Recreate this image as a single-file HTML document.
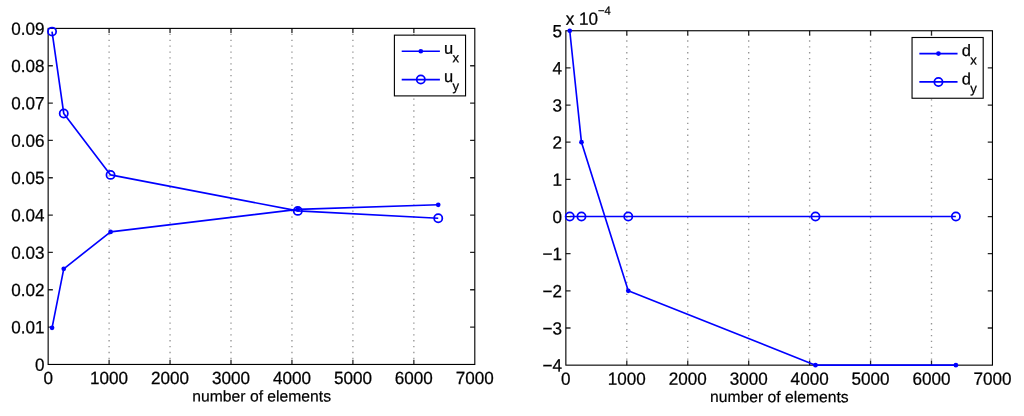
<!DOCTYPE html>
<html><head><meta charset="utf-8"><title>plots</title>
<style>
html,body{margin:0;padding:0;background:#fff;}
body{width:1024px;height:416px;overflow:hidden;}
svg{display:block;font-family:"Liberation Sans",sans-serif;}
.ax{stroke:#000;stroke-width:1.12;fill:none}
.tk{stroke:#000;stroke-width:1.3;fill:none;stroke-opacity:.85}
.gr{stroke:#000;stroke-width:1.35;fill:none;stroke-opacity:.42;stroke-dasharray:1.3 4.591}
.ln{stroke:#0000ff;stroke-width:1.65;fill:none;stroke-linejoin:round}
.mk{stroke:#0000ff;stroke-width:1.75;fill:none}
.dt{fill:#0000ff;stroke:none}
.lg{stroke:#000;stroke-width:1.12;fill:#fff}
.t{font-size:17.1px;fill:#000;stroke:#000;stroke-width:.25px}
.xl{font-size:15.7px;fill:#000;stroke:#000;stroke-width:.2px}
.lt{font-size:16.5px}
.sub{font-size:13.1px}
.sup{font-size:11.2px}
</style></head><body>
<svg width="1024" height="416" viewBox="0 0 1024 416">
<rect width="1024" height="416" fill="#fff"/>
<path class="gr" d="M109.1 359.05V28.4"/>
<path class="gr" d="M170.05 359.05V28.4"/>
<path class="gr" d="M231 359.05V28.4"/>
<path class="gr" d="M291.95 359.05V28.4"/>
<path class="gr" d="M352.9 359.05V28.4"/>
<path class="gr" d="M413.85 359.05V28.4"/>
<path class="tk" d="M109.1 364.45v-4.7M109.1 28.4v4.7M170.05 364.45v-4.7M170.05 28.4v4.7M231 364.45v-4.7M231 28.4v4.7M291.95 364.45v-4.7M291.95 28.4v4.7M352.9 364.45v-4.7M352.9 28.4v4.7M413.85 364.45v-4.7M413.85 28.4v4.7M48.15 327.11h4.7M474.8 327.11h-4.7M48.15 289.77h4.7M474.8 289.77h-4.7M48.15 252.43h4.7M474.8 252.43h-4.7M48.15 215.09h4.7M474.8 215.09h-4.7M48.15 177.76h4.7M474.8 177.76h-4.7M48.15 140.42h4.7M474.8 140.42h-4.7M48.15 103.08h4.7M474.8 103.08h-4.7M48.15 65.74h4.7M474.8 65.74h-4.7"/>
<rect class="ax" x="48.15" y="28.4" width="426.65" height="336.05"/>
<polyline class="ln" points="52.05,327.8 63.75,268.8 110.56,231.9 297.8,209.4 438.23,204.8"/>
<circle class="dt" cx="52.05" cy="327.8" r="2.35"/>
<circle class="dt" cx="63.75" cy="268.8" r="2.35"/>
<circle class="dt" cx="110.56" cy="231.9" r="2.35"/>
<circle class="dt" cx="297.8" cy="209.4" r="2.35"/>
<circle class="dt" cx="438.23" cy="204.8" r="2.35"/>
<polyline class="ln" points="52.05,31.6 63.75,113.4 110.56,174.9 297.8,210.9 438.23,218.2"/>
<circle class="mk" cx="52.05" cy="31.6" r="4.1"/>
<circle class="mk" cx="63.75" cy="113.4" r="4.1"/>
<circle class="mk" cx="110.56" cy="174.9" r="4.1"/>
<circle class="mk" cx="297.8" cy="210.9" r="4.1"/>
<circle class="mk" cx="438.23" cy="218.2" r="4.1"/>
<text class="t" text-anchor="end" transform="translate(44.55 370.7) scale(1 1.035) rotate(0.03)">0</text>
<text class="t" text-anchor="end" transform="translate(44.55 333.36) scale(1 1.035) rotate(0.03)">0.01</text>
<text class="t" text-anchor="end" transform="translate(44.55 296.02) scale(1 1.035) rotate(0.03)">0.02</text>
<text class="t" text-anchor="end" transform="translate(44.55 258.68) scale(1 1.035) rotate(0.03)">0.03</text>
<text class="t" text-anchor="end" transform="translate(44.55 221.34) scale(1 1.035) rotate(0.03)">0.04</text>
<text class="t" text-anchor="end" transform="translate(44.55 184.01) scale(1 1.035) rotate(0.03)">0.05</text>
<text class="t" text-anchor="end" transform="translate(44.55 146.67) scale(1 1.035) rotate(0.03)">0.06</text>
<text class="t" text-anchor="end" transform="translate(44.55 109.33) scale(1 1.035) rotate(0.03)">0.07</text>
<text class="t" text-anchor="end" transform="translate(44.55 71.99) scale(1 1.035) rotate(0.03)">0.08</text>
<text class="t" text-anchor="end" transform="translate(44.55 34.65) scale(1 1.035) rotate(0.03)">0.09</text>
<text class="t" text-anchor="middle" transform="translate(48.15 384.05) scale(1 1.035) rotate(0.03)">0</text>
<text class="t" text-anchor="middle" transform="translate(109.1 384.05) scale(1 1.035) rotate(0.03)">1000</text>
<text class="t" text-anchor="middle" transform="translate(170.05 384.05) scale(1 1.035) rotate(0.03)">2000</text>
<text class="t" text-anchor="middle" transform="translate(231 384.05) scale(1 1.035) rotate(0.03)">3000</text>
<text class="t" text-anchor="middle" transform="translate(291.95 384.05) scale(1 1.035) rotate(0.03)">4000</text>
<text class="t" text-anchor="middle" transform="translate(352.9 384.05) scale(1 1.035) rotate(0.03)">5000</text>
<text class="t" text-anchor="middle" transform="translate(413.85 384.05) scale(1 1.035) rotate(0.03)">6000</text>
<text class="t" text-anchor="middle" transform="translate(474.8 384.05) scale(1 1.035) rotate(0.03)">7000</text>
<text class="xl" text-anchor="middle" transform="translate(261.68 401.45) rotate(0.03)">number of elements</text>
<rect x="394.4" y="35.15" width="71.15" height="60.75" class="lg"/>
<path class="ln" d="M401.7 51.25h38.2"/>
<circle class="dt" cx="420.8" cy="51.25" r="2.35"/>
<text class="t lt" transform="translate(444 53.75) rotate(0.03)">u<tspan class="sub" dx="-0.6" dy="8.4">x</tspan></text>
<path class="ln" d="M401.7 79.55h38.2"/>
<circle class="mk" cx="420.8" cy="79.55" r="4.1"/>
<text class="t lt" transform="translate(444 82.05) rotate(0.03)">u<tspan class="sub" dx="-0.6" dy="8.4">y</tspan></text>
<path class="gr" d="M626.8 359.75V30.75"/>
<path class="gr" d="M687.74 359.75V30.75"/>
<path class="gr" d="M748.68 359.75V30.75"/>
<path class="gr" d="M809.63 359.75V30.75"/>
<path class="gr" d="M870.57 359.75V30.75"/>
<path class="gr" d="M931.51 359.75V30.75"/>
<path class="tk" d="M626.8 365.15v-4.7M626.8 30.75v4.7M687.74 365.15v-4.7M687.74 30.75v4.7M748.68 365.15v-4.7M748.68 30.75v4.7M809.63 365.15v-4.7M809.63 30.75v4.7M870.57 365.15v-4.7M870.57 30.75v4.7M931.51 365.15v-4.7M931.51 30.75v4.7M565.86 327.99h4.7M992.45 327.99h-4.7M565.86 290.84h4.7M992.45 290.84h-4.7M565.86 253.68h4.7M992.45 253.68h-4.7M565.86 216.53h4.7M992.45 216.53h-4.7M565.86 179.37h4.7M992.45 179.37h-4.7M565.86 142.22h4.7M992.45 142.22h-4.7M565.86 105.06h4.7M992.45 105.06h-4.7M565.86 67.91h4.7M992.45 67.91h-4.7"/>
<rect class="ax" x="565.86" y="30.75" width="426.59" height="334.4"/>
<polyline class="ln" points="569.76,30.75 581.46,142.22 628.26,290.84 815.48,365.15 955.89,365.15"/>
<circle class="dt" cx="569.76" cy="30.75" r="2.35"/>
<circle class="dt" cx="581.46" cy="142.22" r="2.35"/>
<circle class="dt" cx="628.26" cy="290.84" r="2.35"/>
<circle class="dt" cx="815.48" cy="365.15" r="2.35"/>
<circle class="dt" cx="955.89" cy="365.15" r="2.35"/>
<polyline class="ln" points="569.76,216.53 581.46,216.53 628.26,216.53 815.48,216.53 955.89,216.53"/>
<circle class="mk" cx="569.76" cy="216.53" r="4.1"/>
<circle class="mk" cx="581.46" cy="216.53" r="4.1"/>
<circle class="mk" cx="628.26" cy="216.53" r="4.1"/>
<circle class="mk" cx="815.48" cy="216.53" r="4.1"/>
<circle class="mk" cx="955.89" cy="216.53" r="4.1"/>
<text class="t" text-anchor="end" transform="translate(561.96 371.55) scale(1 1.035) rotate(0.03)">−4</text>
<text class="t" text-anchor="end" transform="translate(561.96 334.39) scale(1 1.035) rotate(0.03)">−3</text>
<text class="t" text-anchor="end" transform="translate(561.96 297.24) scale(1 1.035) rotate(0.03)">−2</text>
<text class="t" text-anchor="end" transform="translate(561.96 260.08) scale(1 1.035) rotate(0.03)">−1</text>
<text class="t" text-anchor="end" transform="translate(561.96 222.93) scale(1 1.035) rotate(0.03)">0</text>
<text class="t" text-anchor="end" transform="translate(561.96 185.77) scale(1 1.035) rotate(0.03)">1</text>
<text class="t" text-anchor="end" transform="translate(561.96 148.62) scale(1 1.035) rotate(0.03)">2</text>
<text class="t" text-anchor="end" transform="translate(561.96 111.46) scale(1 1.035) rotate(0.03)">3</text>
<text class="t" text-anchor="end" transform="translate(561.96 74.31) scale(1 1.035) rotate(0.03)">4</text>
<text class="t" text-anchor="end" transform="translate(561.96 37.15) scale(1 1.035) rotate(0.03)">5</text>
<text class="t" text-anchor="middle" transform="translate(565.86 384.75) scale(1 1.035) rotate(0.03)">0</text>
<text class="t" text-anchor="middle" transform="translate(626.8 384.75) scale(1 1.035) rotate(0.03)">1000</text>
<text class="t" text-anchor="middle" transform="translate(687.74 384.75) scale(1 1.035) rotate(0.03)">2000</text>
<text class="t" text-anchor="middle" transform="translate(748.68 384.75) scale(1 1.035) rotate(0.03)">3000</text>
<text class="t" text-anchor="middle" transform="translate(809.63 384.75) scale(1 1.035) rotate(0.03)">4000</text>
<text class="t" text-anchor="middle" transform="translate(870.57 384.75) scale(1 1.035) rotate(0.03)">5000</text>
<text class="t" text-anchor="middle" transform="translate(931.51 384.75) scale(1 1.035) rotate(0.03)">6000</text>
<text class="t" text-anchor="middle" transform="translate(992.45 384.75) scale(1 1.035) rotate(0.03)">7000</text>
<text class="xl" text-anchor="middle" transform="translate(779.36 402.15) rotate(0.03)">number of elements</text>
<text class="t" transform="translate(565.66 24.85) scale(1 1.035) rotate(0.03)">x 10<tspan class="sup" dy="-10">−4</tspan></text>
<rect x="912.05" y="37.5" width="71.15" height="60.75" class="lg"/>
<path class="ln" d="M919.35 53.6h38.2"/>
<circle class="dt" cx="938.45" cy="53.6" r="2.35"/>
<text class="t lt" transform="translate(961.65 56.1) rotate(0.03)">d<tspan class="sub" dx="-0.6" dy="8.4">x</tspan></text>
<path class="ln" d="M919.35 81.9h38.2"/>
<circle class="mk" cx="938.45" cy="81.9" r="4.1"/>
<text class="t lt" transform="translate(961.65 84.4) rotate(0.03)">d<tspan class="sub" dx="-0.6" dy="8.4">y</tspan></text>
</svg></body></html>
